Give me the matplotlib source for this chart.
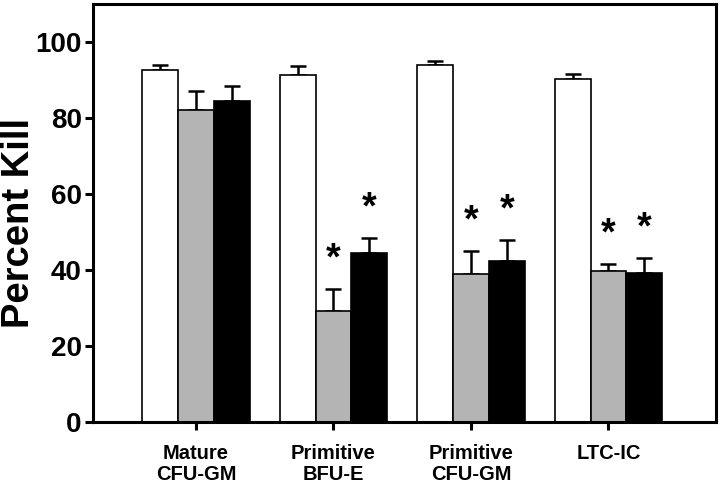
import numpy as np
import matplotlib
matplotlib.use("Agg")
import matplotlib.pyplot as plt

plt.rcParams['font.family'] = ['Liberation Sans', 'DejaVu Sans']
plt.rcParams['font.weight'] = 'bold'

# data
groups = ["Mature\nCFU-GM", "Primitive\nBFU-E", "Primitive\nCFU-GM", "LTC-IC"]
white_mean = [92.7, 91.4, 93.8, 90.2]
white_err = [1.1, 2.2, 1.1, 1.4]
gray_mean = [82.0, 29.1, 39.0, 39.6]
gray_err = [5.1, 5.9, 6.0, 2.0]
black_mean = [84.5, 44.5, 42.4, 39.1]
black_err = [3.9, 3.8, 5.5, 4.0]
gray_star = [False, True, True, True]
black_star = [False, True, True, True]

fig = plt.figure(figsize=(7.2, 4.9), dpi=100)
ax = fig.add_axes([0.129, 0.139, 0.865, 0.853])

x = np.arange(len(groups))
w = 0.26
series = [
    (white_mean, white_err, 'white', -w),
    (gray_mean, gray_err, '#b4b4b4', 0),
    (black_mean, black_err, 'black', w),
]
for mean, err, col, off in series:
    ax.bar(x + off, mean, width=w, color=col, edgecolor='black', linewidth=1.2, zorder=2)
    ax.errorbar(x + off, mean, yerr=[np.zeros(len(err)), err], fmt='none',
                ecolor='black', elinewidth=1.8, capsize=6, capthick=1.8, zorder=1)

# significance stars above the error bars
for i in range(len(groups)):
    if gray_star[i]:
        ax.text(x[i], gray_mean[i] + gray_err[i] + 7.8, '*', ha='center', va='center',
                fontsize=27, fontweight='bold')
    if black_star[i]:
        ax.text(x[i] + w, black_mean[i] + black_err[i] + 7.8, '*', ha='center', va='center',
                fontsize=27, fontweight='bold')

ax.set_xlim(-0.75, 3.78)
ax.set_ylim(0, 110)
ax.set_yticks([0, 20, 40, 60, 80, 100])
ax.set_xticks(x)
ax.set_xticklabels(groups, fontsize=14.5, fontweight='bold', linespacing=1.15)
ax.tick_params(axis='y', labelsize=20, width=2.2, length=6, pad=2)
ax.tick_params(axis='x', width=2.2, length=6, pad=10)
for lab in ax.get_yticklabels():
    lab.set_fontweight('bold')
for s in ax.spines.values():
    s.set_linewidth(2.2)

ax.set_ylabel('Percent Kill', fontsize=27.5, fontweight='bold', va='center')
ax.yaxis.set_label_coords(-0.118, 0.475)

fig.savefig('out.png', dpi=100)
